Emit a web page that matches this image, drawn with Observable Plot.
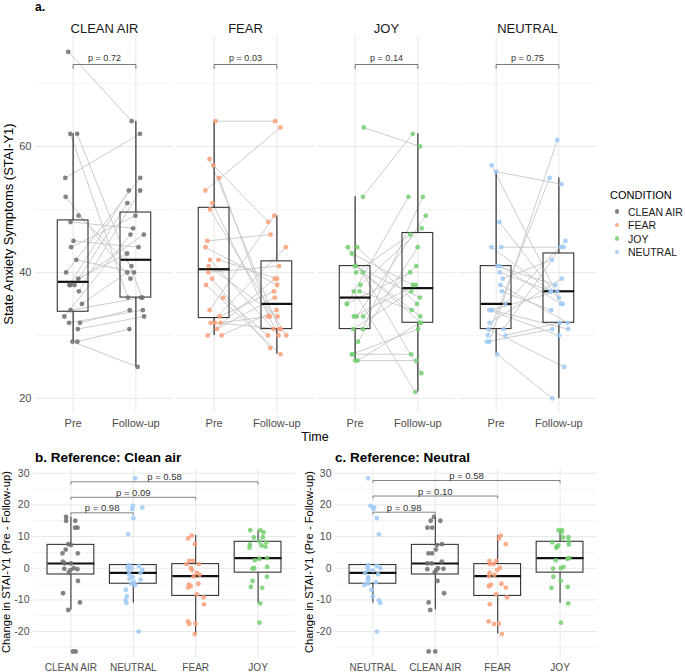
<!DOCTYPE html>
<html><head><meta charset="utf-8">
<script src="https://cdn.jsdelivr.net/npm/d3@7"></script>
<script src="https://cdn.jsdelivr.net/npm/@observablehq/plot@0.6"></script>
<style>
html,body{margin:0;padding:0;background:#fff;}
#wrap{position:relative;width:685px;height:672px;overflow:hidden;font-family:"Liberation Sans",Arial,Helvetica,sans-serif;}
.lab{position:absolute;white-space:nowrap;line-height:1;}
.abs{position:absolute;}
</style></head><body><div id="wrap"></div>
<script>
// ---------- data ----------
const conditions = ["CLEAN AIR", "FEAR", "JOY", "NEUTRAL"];
const timeLabels = ["Pre", "Follow-up"];
const condColors = ["#6f6f6f", "#fb9f78", "#74cf71", "#9fcaf6"];
const pValuesTime = ["0.72", "0.03", "0.14", "0.75"];

// paired scores (same index = same participant)
const cleanAirPre    = [75,62,62,55,52,49,48,45,44,42,40,39,38,38,38,37,35,34,33,32,32,31,29,29];
const cleanAirFollow = [64,36,36,62,39,41,47,44,49,40,55,43,53,51,46,53,40,36,46,34,34,33,31,25];
const fearPre        = [64,58,57,55,53,51,50,45,44,42,42,41,40,39,38,36,34,33,32,32,32,31,30,30];
const fearFollow     = [64,31,48,33,63,30,30,46,38,31,39,33,41,28,27,30,49,37,44,31,33,36,39,34];
const joyPre         = [63,52,44,44,43,41,41,40,40,38,37,37,35,35,33,33,33,31,31,29,27,27,26,26];
const joyFollow      = [60,62,35,24,38,32,36,33,46,47,34,21,52,40,49,38,41,52,37,44,27,31,26,32];
const neutralPre     = [57,56,48,44,44,41,41,40,39,38,37,35,34,34,34,32,31,31,30,30,29,29,27];
const neutralFollow  = [36,54,35,44,37,35,38,37,42,32,34,45,37,31,30,39,44,25,55,32,61,31,20];

// change scores (as plotted in panels b and c)
const changeCleanAir = [16.2,15,15,12.8,12.8,7.6,7.3,5.9,4.7,4.7,2.1,1.5,1.5,0,-0.2,-0.3,-0.6,-1.3,-4,-7.9,-10.8,-13.2,-26.3,-26.3];
const changeFear     = [10.3,9.4,7.6,2.3,2.3,1.3,1.3,0.1,-0.6,-1.5,-2.1,-2.5,-4.9,-5.2,-5.7,-6.1,-8.3,-9.2,-11.4,-16.8,-17.5,-17.6,-20.8];
const changeJoy      = [12,12,11.3,9.8,9.7,8.5,8.2,7.5,7.2,6.8,6.5,3.0,3.2,2.5,0.4,0,-0.1,-2.7,-4,-5.9,-6.2,-11.1,-17.2];
const changeNeutral  = [28.4,19.7,19.2,18.7,15.8,10.7,1.0,0.7,0.4,0,-0.5,-0.7,-1.5,-1.9,-2.8,-3.3,-3.6,-4.4,-4.9,-5.3,-6.8,-8.9,-10.2,-11,-20];

const refCleanOrder   = ["CLEAN AIR", "NEUTRAL", "FEAR", "JOY"];
const refCleanP       = ["0.98", "0.09", "0.58"];
const refNeutralOrder = ["NEUTRAL", "CLEAN AIR", "FEAR", "JOY"];
const refNeutralP     = ["0.98", "0.10", "0.58"];

const yTicksA = [20, 40, 60];
const yTicksB = [-20, -10, 0, 10, 20, 30];

// ---------- helpers ----------
const FONT = '"Liberation Sans", Arial, Helvetica, sans-serif';
function boxStats(vals) {
  const s = d3.sort(vals);
  const q1 = d3.quantileSorted(s, 0.25), med = d3.quantileSorted(s, 0.5), q3 = d3.quantileSorted(s, 0.75);
  const iqr = q3 - q1;
  const lo = d3.min(s.filter(v => v >= q1 - 1.5 * iqr));
  const hi = d3.max(s.filter(v => v <= q3 + 1.5 * iqr));
  return {q1, med, q3, lo, hi};
}
const jit = (rng, w) => (rng() * 2 - 1) * w;
const colorScale = {domain: conditions, range: condColors};

const wrap = document.getElementById("wrap");
function place(node, x, y) {
  node.classList.add("abs");
  node.style.left = x + "px"; node.style.top = y + "px";
  wrap.appendChild(node);
}
function label(text, x, y, opts = {}) {
  const d = document.createElement("div");
  d.className = "lab";
  d.textContent = text;
  d.style.left = x + "px"; d.style.top = y + "px";
  d.style.fontSize = (opts.size || 12) + "px";
  d.style.fontWeight = opts.bold ? "bold" : "normal";
  d.style.color = opts.color || "#000";
  let tf = opts.center ? "translate(-50%,-50%)" : "translate(0,-50%)";
  if (opts.rotate) tf = "translate(-50%,-50%) rotate(-90deg)";
  d.style.transform = tf;
  wrap.appendChild(d);
}

// ---------- panel a ----------
const preSets = [cleanAirPre, fearPre, joyPre, neutralPre];
const followSets = [cleanAirFollow, fearFollow, joyFollow, neutralFollow];
const rngA = d3.randomLcg(11);
const pairs = [], ptsA = [], boxesA = [];
conditions.forEach((c, i) => {
  preSets[i].forEach((p, k) => {
    const f = followSets[i][k];
    const xa = 1 + jit(rngA, 0.15), xb = 2 + jit(rngA, 0.15);
    pairs.push({cond: c, pre: p, follow: f, xa, xb});
    ptsA.push({cond: c, x: xa, v: p}, {cond: c, x: xb, v: f});
  });
  [preSets[i], followSets[i]].forEach((arr, t) => boxesA.push({cond: c, t: t + 1, ...boxStats(arr)}));
});
const bracketA = conditions.map((c, i) => ({cond: c, p: pValuesTime[i]}));
const BR_A = 73, TIP_A = 0.7, HW_A = 0.245;

const plotA = Plot.plot({
  width: 610, height: 445,
  marginLeft: 33, marginRight: 13, marginTop: 35, marginBottom: 32,
  style: {fontFamily: FONT, background: "transparent", overflow: "visible"},
  fx: {domain: conditions, paddingInner: 0.022, paddingOuter: 0, label: null},
  x: {domain: [0.4, 2.6]},
  y: {domain: [17.6, 77.6]},
  color: colorScale,
  marks: [
    Plot.gridY({ticks: [30, 50, 70], stroke: "#efefef", strokeOpacity: 1, strokeWidth: 0.7}),
    Plot.gridY({ticks: yTicksA, stroke: "#e8e8e8", strokeOpacity: 1, strokeWidth: 1}),
    Plot.gridX({ticks: [1, 2], stroke: "#e8e8e8", strokeOpacity: 1, strokeWidth: 1}),
    Plot.link(pairs, {fx: "cond", x1: "xa", y1: "pre", x2: "xb", y2: "follow", stroke: "#c6c6c6", strokeWidth: 0.9}),
    Plot.ruleX(boxesA, {fx: "cond", x: "t", y1: "lo", y2: "q1", stroke: "#4a4a4a", strokeWidth: 1.4}),
    Plot.ruleX(boxesA, {fx: "cond", x: "t", y1: "q3", y2: "hi", stroke: "#4a4a4a", strokeWidth: 1.4}),
    Plot.rect(boxesA, {fx: "cond", x1: d => d.t - HW_A, x2: d => d.t + HW_A, y1: "q1", y2: "q3", fill: "none", stroke: "#333", strokeWidth: 1.1}),
    Plot.link(boxesA, {fx: "cond", x1: d => d.t - HW_A, x2: d => d.t + HW_A, y1: "med", y2: "med", stroke: "#111", strokeWidth: 2.2}),
    Plot.dot(ptsA, {fx: "cond", x: "x", y: "v", fill: "cond", r: 2.4, fillOpacity: 0.85}),
    Plot.link(bracketA, {fx: "cond", x1: () => 1, x2: () => 2, y1: () => BR_A, y2: () => BR_A, stroke: "#555", strokeWidth: 0.8}),
    Plot.link(bracketA, {fx: "cond", x1: () => 1, x2: () => 1, y1: () => BR_A, y2: () => BR_A - TIP_A, stroke: "#555", strokeWidth: 0.8}),
    Plot.link(bracketA, {fx: "cond", x1: () => 2, x2: () => 2, y1: () => BR_A, y2: () => BR_A - TIP_A, stroke: "#555", strokeWidth: 0.8}),
    Plot.text(bracketA, {fx: "cond", x: () => 1.5, y: () => BR_A, text: d => `p = ${d.p}`, dy: -3, lineAnchor: "bottom", fontSize: 9, fill: "#333"}),
    Plot.axisFx({anchor: "top", label: null, tickSize: 0, tickPadding: 3, fontSize: 13, color: "#1a1a1a"}),
    Plot.axisX({ticks: [1, 2], tickFormat: d => timeLabels[d - 1], tickSize: 0, tickPadding: 6, label: null, fontSize: 11, color: "#4d4d4d"}),
    Plot.axisY({ticks: yTicksA, tickFormat: d => String(d), tickSize: 0, tickPadding: 4, label: null, fontSize: 11, color: "#4d4d4d"})
  ]
});
place(plotA, 0, 0);

// ---------- panels b, c ----------
const changeSets = [changeCleanAir, changeFear, changeJoy, changeNeutral];
function refPanel(order, pv, levels, seed) {
  const rng = d3.randomLcg(seed);
  const pts = [], boxes = [];
  order.forEach((c, i) => {
    const vals = changeSets[conditions.indexOf(c)];
    vals.forEach(v => pts.push({cond: c, x: i + 1 + jit(rng, 0.15), v}));
    boxes.push({cond: c, t: i + 1, ...boxStats(vals)});
  });
  const br = pv.map((p, k) => ({p, a: 1, b: k + 2, lvl: levels[k]}));
  const TIP = 0.8, HW = 0.375;
  return Plot.plot({
    width: 300, height: 232,
    marginLeft: 33, marginRight: 5, marginTop: 28, marginBottom: 15,
    style: {fontFamily: FONT, background: "transparent", overflow: "visible"},
    x: {domain: [0.4, 4.6]},
    y: {domain: [-28.2, 31.5]},
    color: colorScale,
    marks: [
      Plot.gridY({ticks: [-25, -15, -5, 5, 15, 25], stroke: "#efefef", strokeOpacity: 1, strokeWidth: 0.7}),
      Plot.gridY({ticks: yTicksB, stroke: "#e8e8e8", strokeOpacity: 1, strokeWidth: 1}),
      Plot.gridX({ticks: [1, 2, 3, 4], stroke: "#e8e8e8", strokeOpacity: 1, strokeWidth: 1}),
      Plot.ruleX(boxes, {x: "t", y1: "lo", y2: "q1", stroke: "#333", strokeWidth: 1.1}),
      Plot.ruleX(boxes, {x: "t", y1: "q3", y2: "hi", stroke: "#333", strokeWidth: 1.1}),
      Plot.rect(boxes, {x1: d => d.t - HW, x2: d => d.t + HW, y1: "q1", y2: "q3", fill: "none", stroke: "#333", strokeWidth: 1.1}),
      Plot.link(boxes, {x1: d => d.t - HW, x2: d => d.t + HW, y1: "med", y2: "med", stroke: "#111", strokeWidth: 2.2}),
      Plot.dot(pts, {x: "x", y: "v", fill: "cond", r: 2.4, fillOpacity: 0.85}),
      Plot.link(br, {x1: "a", x2: "b", y1: "lvl", y2: "lvl", stroke: "#666", strokeWidth: 0.8}),
      Plot.link(br, {x1: "a", x2: "a", y1: "lvl", y2: d => d.lvl - TIP, stroke: "#666", strokeWidth: 0.8}),
      Plot.link(br, {x1: "b", x2: "b", y1: "lvl", y2: d => d.lvl - TIP, stroke: "#666", strokeWidth: 0.8}),
      Plot.text(br, {x: d => (d.a + d.b) / 2, y: "lvl", text: d => `p = ${d.p}`, dy: -1.5, lineAnchor: "bottom", fontSize: 9.5, fill: "#333"}),
      Plot.axisX({ticks: [1, 2, 3, 4], tickFormat: d => order[d - 1], tickSize: 0, tickPadding: 6, label: null, fontSize: 10, color: "#4d4d4d"}),
      Plot.axisY({ticks: yTicksB, tickFormat: d => String(d), tickSize: 0, tickPadding: 4, label: null, fontSize: 10.5, color: "#4d4d4d"})
    ]
  });
}
place(refPanel(refCleanOrder, refCleanP, [17.5, 22.4, 27.3], 5), 0, 440);
place(refPanel(refNeutralOrder, refNeutralP, [17.7, 22.8, 27.7], 23), 302, 440);

// ---------- titles & labels ----------
label("a.", 35, 7, {size: 12, bold: true});
label("State Anxiety Symptoms (STAI-Y1)", 8, 224, {size: 13, rotate: true});
label("Time", 315, 437, {size: 12.5, center: true});
label("b. Reference: Clean air", 35, 458, {size: 13.5, bold: true});
label("c. Reference: Neutral", 335, 458, {size: 13.5, bold: true});
label("Change in STAI-Y1 (Pre - Follow-up)", 7, 562, {size: 11.2, rotate: true});
label("Change in STAI-Y1 (Pre - Follow-up)", 310, 562, {size: 11.2, rotate: true});

// ---------- legend ----------
label("CONDITION", 610, 195, {size: 11});
conditions.forEach((c, i) => {
  const y = 211.7 + i * 13.4;
  const dot = document.createElement("div");
  dot.style.cssText = `position:absolute;left:${617 - 2.4}px;top:${y - 2.4}px;width:4.8px;height:4.8px;border-radius:50%;background:${condColors[i]};opacity:0.85;`;
  wrap.appendChild(dot);
  label(c, 628, y, {size: 10.5, color: "#1a1a1a"});
});
</script></body></html>
